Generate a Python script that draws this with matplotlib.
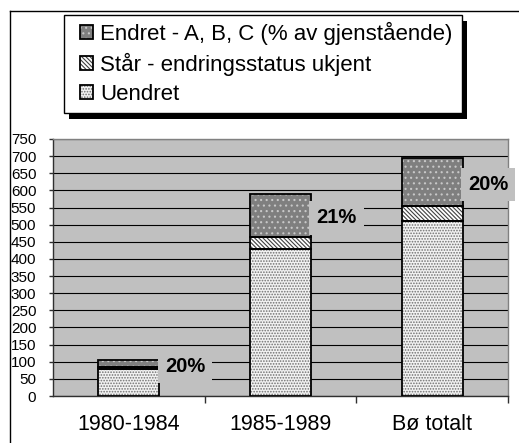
import matplotlib
matplotlib.use("Agg")
import matplotlib.pyplot as plt
from matplotlib.patches import Rectangle
from matplotlib.lines import Line2D
import numpy as np

# Data
categories = ["1980-1984", "1985-1989", "Bø totalt"]
uendret = [80, 430, 512]
staar = [5, 35, 42]
endret = [20, 125, 141]
pct_labels = ["20%", "21%", "20%"]

series_names = ["Uendret", "Står - endringsstatus ukjent", "Endret - A, B, C (% av gjenstående)"]

plt.rcParams["font.family"] = ["Liberation Sans", "DejaVu Sans"]
plt.rcParams["hatch.linewidth"] = 0.8

W, H = 519, 443
fig = plt.figure(figsize=(W / 100, H / 100), dpi=100)
fig.patch.set_facecolor("white")

ax = fig.add_axes([53 / W, 1 - 396 / H, (508 - 53) / W, (396 - 139) / H])
ax.set_facecolor("#c0c0c0")

x = np.arange(len(categories))
bar_w = 0.4

# (face colour, hatch, hatch colour) for each series
styles = [
    ("#f2f2f2", "......", "#707070"),
    ("white", "\\\\\\\\\\\\\\\\", "#404040"),
    ("#7f7f7f", "...", "#c8c8c8"),
]

bottoms = np.zeros(len(categories))
handles = []
for vals, name, (fc, hatch, hc) in zip([uendret, staar, endret], series_names, styles):
    b1 = ax.bar(x, vals, bar_w, bottom=bottoms, color=fc, hatch=hatch,
                edgecolor=hc, linewidth=0, zorder=3)
    b2 = ax.bar(x, vals, bar_w, bottom=bottoms, fill=False,
                edgecolor="black", linewidth=1.3, zorder=4)
    handles.append((b1.patches[0], b2.patches[0]))
    bottoms = bottoms + np.array(vals)

# percentage labels beside the "Endret" segment
endret_mid = np.array(uendret) + np.array(staar) + np.array(endret) / 2
for xi, yi, lab in zip(x, endret_mid, pct_labels):
    ax.text(xi + bar_w / 2 + 0.17, yi - 8, lab, ha="center", va="center",
            fontsize=14.5, fontweight="bold", zorder=5,
            bbox=dict(boxstyle="square,pad=0.35", facecolor="#c0c0c0", edgecolor="none"))

ax.set_xlim(-0.5, 2.5)
ax.set_ylim(0, 750)
ax.set_yticks(np.arange(0, 751, 50))
ax.yaxis.grid(True, color="black", linewidth=0.8, zorder=1)
ax.set_axisbelow(True)

ax.set_xticks(x)
ax.set_xticklabels(categories, fontsize=15.5)
ax.set_xticks([0.5, 1.5, 2.5], minor=True)
ax.tick_params(axis="x", which="major", length=0, pad=13)
ax.tick_params(axis="x", which="minor", length=5, width=1, color="#303030")
ax.tick_params(axis="y", length=3, width=1, pad=9, labelsize=11, color="#303030")

ax.spines["left"].set_color("#303030")
ax.spines["bottom"].set_color("#303030")
ax.spines["right"].set_color("#808080")
ax.spines["top"].set_color("#808080")
for s in ax.spines.values():
    s.set_linewidth(1)

# legend box with a hard black shadow
box_l, box_t, box_r, box_b = 64, 15, 462, 113
fig.patches.append(Rectangle(((box_l + 5) / W, 1 - (box_b + 6) / H),
                             (box_r - box_l) / W, (box_b - box_t) / H,
                             transform=fig.transFigure, facecolor="black",
                             edgecolor="none", zorder=8))
fig.patches.append(Rectangle((box_l / W, 1 - box_b / H),
                             (box_r - box_l) / W, (box_b - box_t) / H,
                             transform=fig.transFigure, facecolor="white",
                             edgecolor="black", linewidth=1, zorder=9))

leg = fig.legend(handles[::-1], series_names[::-1], loc="upper left",
                 bbox_to_anchor=(80 / W, 1 - 22 / H), borderaxespad=0,
                 fontsize=16, frameon=False,
                 handlelength=0.6, handleheight=0.6, handletextpad=0.3,
                 labelspacing=0.36, borderpad=0.0)
leg.set_zorder(10)

# outer chart border (left and top visible)
fig.lines.append(Line2D([10 / W, 10 / W], [0, 1 - 11 / H], transform=fig.transFigure,
                        color="black", linewidth=1))
fig.lines.append(Line2D([10 / W, 1], [1 - 11 / H, 1 - 11 / H], transform=fig.transFigure,
                        color="black", linewidth=1))

fig.savefig("out.png", dpi=100)
